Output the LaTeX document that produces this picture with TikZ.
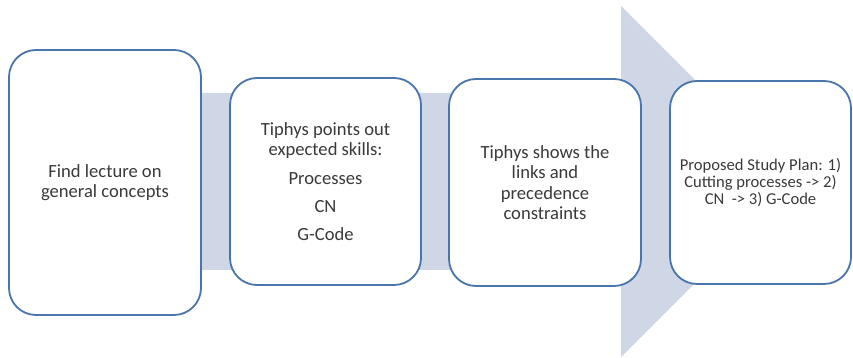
\documentclass[tikz,border=0pt]{standalone}
\usepackage{fontspec}
\setmainfont{Carlito}
\definecolor{bandfill}{HTML}{CFD7E6}
\definecolor{boxline}{HTML}{4A74AC}
\definecolor{txt}{HTML}{3A3A3A}
\begin{document}
\begin{tikzpicture}[x=1pt,y=1pt,
  box/.style={draw=boxline, line width=1.8pt, fill=white, rounded corners=27pt,
    align=center, inner sep=0pt, text=txt, font=\fontsize{18.6}{20.5}\selectfont},
  band/.style={fill=bandfill, draw=none}]
\useasboundingbox (0,0) rectangle (853,358);
% big arrow (band + head)
\fill[band] (200,265) -- (621,265) -- (621,352) -- (796.5,176.5) -- (621,1) -- (621,88) -- (200,88) -- cycle;
% boxes
\node[box, minimum width=192, minimum height=265] (b1) at (105,175.5)
  {Find lecture on\\general concepts};
\node[box, minimum width=191, minimum height=207] (b2) at (325.5,176.5)
  {Tiphys points out\\expected skills:\\[8pt]Processes\\[8pt]CN\\[7pt]G-Code};
\node[box, minimum width=192, minimum height=207] (b3) at (545,175.5)
  {Tiphys shows the\\links and\\precedence\\constraints};
\node[box, minimum width=181, minimum height=203, font=\fontsize{16.6}{17.2}\selectfont] (b4) at (760.5,175.5)
  {Proposed Study Plan: 1)\\Cutting processes -> 2)\\CN~~-> 3) G-Code};
\end{tikzpicture}
\end{document}
